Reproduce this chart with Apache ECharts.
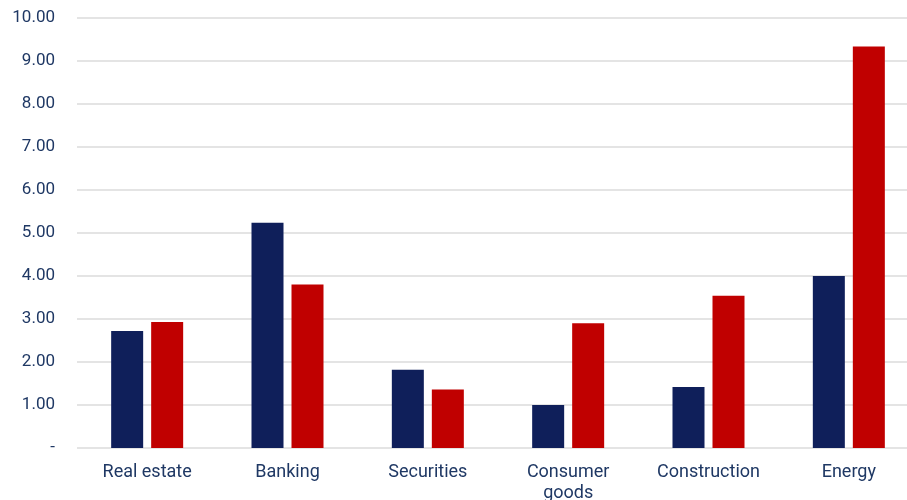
<!DOCTYPE html>
<html>
<head>
<meta charset="utf-8">
<script src="https://cdn.jsdelivr.net/npm/echarts@6/dist/echarts.min.js"></script>
<style>
  html, body { margin: 0; padding: 0; background: #ffffff; }
  #chart { width: 907px; height: 500px; }
</style>
</head>
<body>
<div id="chart"></div>
<script>
const categories = ["Real estate", "Banking", "Securities", "Consumer\ngoods", "Construction", "Energy"];
const navyValues = [2.72, 5.24, 1.82, 1.00, 1.42, 4.00];
const redValues = [2.93, 3.80, 1.36, 2.90, 3.54, 9.34];

const TEXT = "#1f3864";

const chart = echarts.init(document.getElementById("chart"), undefined, { renderer: "canvas" });

chart.setOption({
  animation: false,
  grid: {
    left: 77,
    top: 18,
    width: 842,
    height: 430,
    containLabel: false,
    outerBoundsMode: "none",
  },
  xAxis: {
    type: "category",
    data: categories,
    axisLine: { show: false },
    axisTick: { show: false },
    axisLabel: {
      color: TEXT,
      fontFamily: "Roboto",
      fontSize: 18,
      margin: 14,
      lineHeight: 21,
    },
  },
  yAxis: {
    type: "value",
    min: 0,
    max: 10,
    interval: 1,
    axisLine: { show: false },
    axisTick: { show: false },
    axisLabel: {
      color: TEXT,
      fontFamily: "Roboto",
      fontSize: 17,
      margin: 22,
      formatter: (v) => (v === 0 ? "-" : v.toFixed(2)),
    },
    splitLine: { lineStyle: { color: "#e4e4e4", width: 2 } },
  },
  series: [
    {
      type: "bar",
      data: navyValues,
      barWidth: 32,
      barGap: "25%",
      itemStyle: { color: "#0f1f5a" },
    },
    {
      type: "bar",
      data: redValues,
      barWidth: 32,
      itemStyle: { color: "#c00000" },
    },
  ],
});
</script>
</body>
</html>
